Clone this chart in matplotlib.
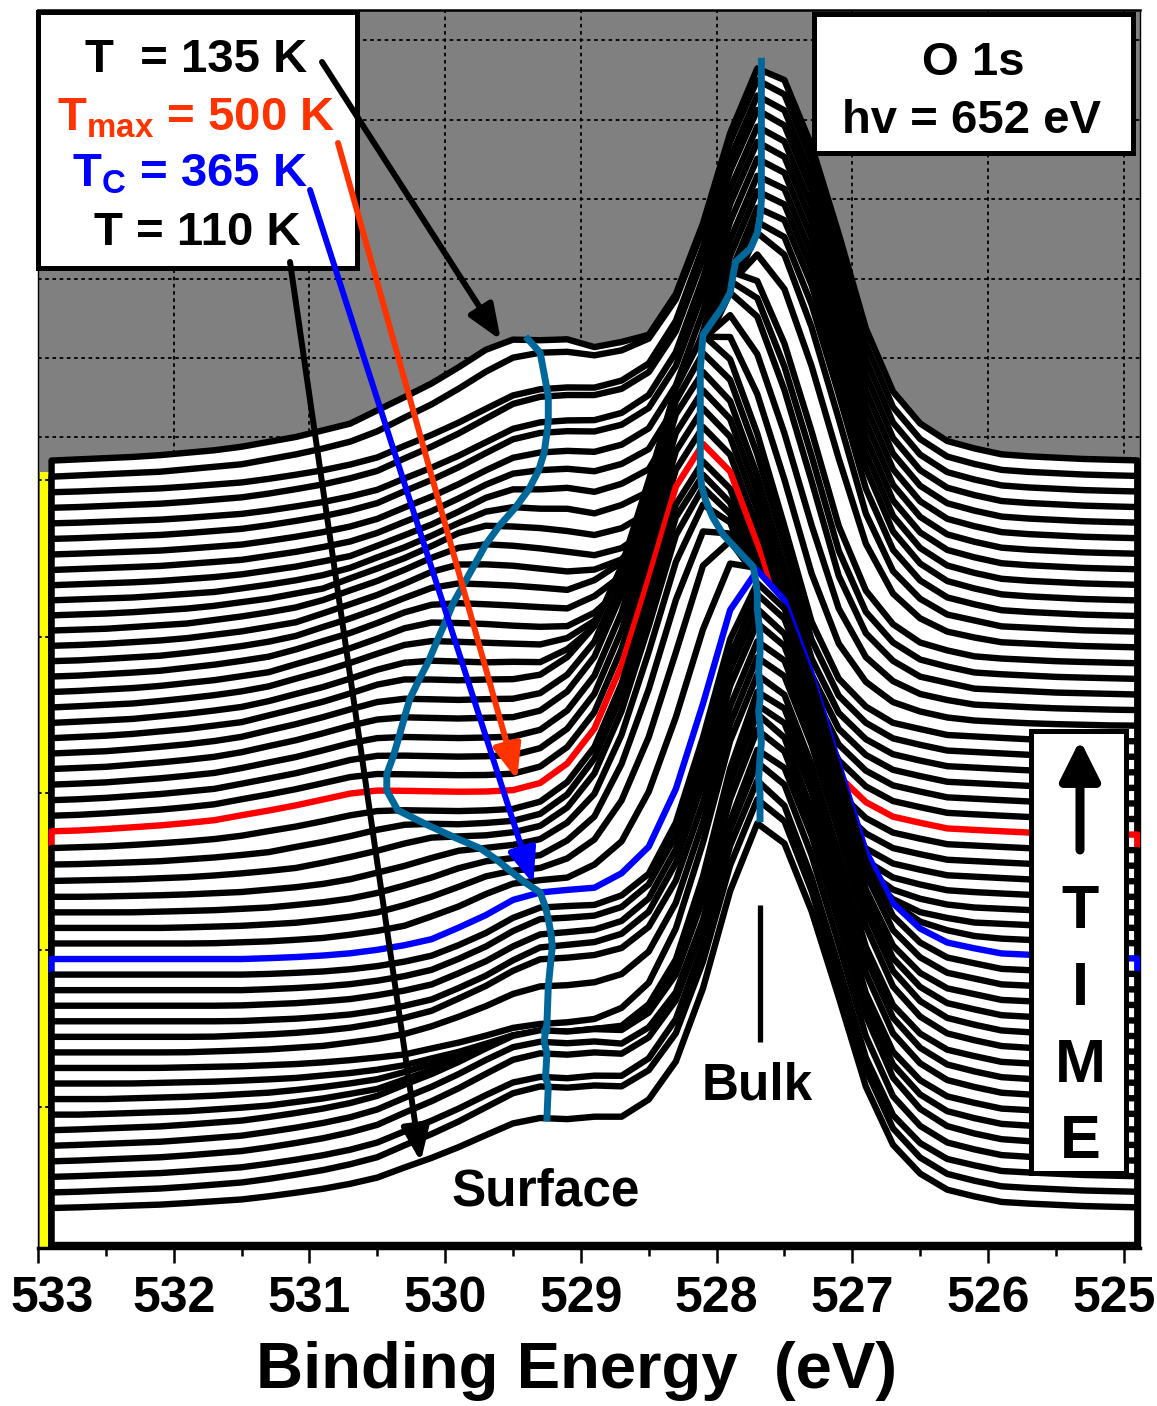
import numpy as np
import matplotlib
matplotlib.use("Agg")
import matplotlib.pyplot as plt
from matplotlib.ticker import AutoMinorLocator
from matplotlib.transforms import ScaledTranslation
from matplotlib.patches import Rectangle

plt.rcParams["font.family"] = ["Liberation Sans", "DejaVu Sans"]
plt.rcParams["font.weight"] = "bold"
plt.rcParams["mathtext.fontset"] = "custom"
plt.rcParams["mathtext.rm"] = "Liberation Sans:bold"
plt.rcParams["mathtext.it"] = "Liberation Sans:bold"
plt.rcParams["mathtext.bf"] = "Liberation Sans:bold"

# ---- data -------------------------------------------------------------
# binding energy of every sample in one scan (eV)
energy = np.array([
    532.9, 532.7, 532.5, 532.3, 532.1, 531.9, 531.7, 531.5, 531.3, 531.1,
    530.9, 530.7, 530.5, 530.3, 530.1, 529.9, 529.7, 529.5, 529.3, 529.1,
    528.9, 528.7, 528.5, 528.3, 528.1, 527.9, 527.7, 527.5, 527.3, 527.1,
    526.9, 526.7, 526.5, 526.3, 526.1, 525.9, 525.7, 525.5, 525.3, 525.1,
    524.9])

surf_de = [-2.6, -2.1, -1.7, -1.5, -1.27, -1.1, -0.9, -0.7, -0.3, 0.0,
           0.1, 0.3, 0.45, 0.75, 1.05, 1.3, 1.7, 2.2, 2.8, 3.6]
surf_shape = [0.0, 0.01, 0.05, 0.12, 0.26, 0.41, 0.58, 0.77, 0.97, 1.0,
              1.0, 0.92, 0.81, 0.61, 0.45, 0.31, 0.20, 0.10, 0.04, 0.0]
bulk_de = [-3.0, -2.4, -1.8, -1.4, -1.2, -1.0, -0.8, -0.6, -0.4, -0.2,
           0.0, 0.15, 0.3, 0.45, 0.6, 0.8, 1.0, 1.2, 1.6]
bulk_shape = [0.0, 0.005, 0.015, 0.045, 0.085, 0.155, 0.30, 0.54, 0.77, 0.95,
              1.0, 0.90, 0.70, 0.50, 0.32, 0.15, 0.07, 0.02, 0.0]

# per scan, first (110 K) to last (135 K)
surf_energy = [
    529.25, 529.24, 529.26, 529.25, 529.27, 529.26, 529.25, 529.27, 529.26, 529.25,
    529.24, 529.22, 529.21, 529.22, 529.24, 529.26, 529.30, 529.42, 529.52, 529.62,
    529.74, 529.95, 530.15, 530.35, 530.43, 530.43, 530.38, 530.34, 530.30, 530.26,
    530.19, 530.12, 530.06, 530.00, 529.94, 529.86, 529.78, 529.70, 529.60, 529.48,
    529.38, 529.31, 529.27, 529.25, 529.24, 529.24, 529.25, 529.30, 529.39]
surf_height = [
    90, 106, 100, 108, 104, 100, 84, 68, 52, 44,
    66, 78, 75, 72, 71, 67, 66, 60, 55, 51,
    48, 45, 42, 40, 44, 45, 48, 51, 55, 58,
    62, 65, 69, 72, 76, 80, 84, 88, 91, 94,
    97, 100, 102, 106, 101, 111, 103, 124, 122]
surf_width_low = [
    1.2, 1.2, 1.2, 1.2, 1.2, 1.2, 1.2, 1.2, 1.2, 1.2,
    1.15, 1.1, 1.1, 1.05, 1.05, 1.0, 1.0, 1.1, 1.2, 1.35,
    1.5, 1.65, 1.8, 1.9, 2.0, 2.0, 1.95, 1.9, 1.85, 1.8,
    1.7, 1.6, 1.5, 1.45, 1.4, 1.3, 1.25, 1.2, 1.15, 1.1,
    1.05, 1.0, 1.0, 1.0, 1.0, 1.0, 1.0, 1.0, 1.0]
surf_width_high = [
    1.0, 1.0, 1.0, 1.0, 1.0, 1.0, 0.95, 0.9, 0.85, 0.8,
    0.75, 0.7, 0.65, 0.65, 0.62, 0.6, 0.6, 0.65, 0.7, 0.75,
    0.8, 0.85, 0.9, 0.95, 1.0, 1.0, 1.0, 1.0, 1.0, 1.0,
    1.0, 1.0, 1.0, 1.0, 1.0, 1.0, 1.0, 1.0, 1.0, 1.0,
    1.0, 1.0, 1.0, 1.0, 1.0, 1.0, 1.0, 1.0, 1.0]
bulk_energy = [
    527.68, 527.68, 527.69, 527.68, 527.67, 527.68, 527.69, 527.68, 527.68, 527.69,
    527.68, 527.68, 527.69, 527.70, 527.70, 527.71, 527.73, 527.84, 527.95, 528.03,
    528.08, 528.11, 528.12, 528.12, 528.12, 528.12, 528.12, 528.12, 528.12, 528.11,
    528.10, 528.03, 527.96, 527.90, 527.88, 527.86, 527.75, 527.70, 527.68, 527.67,
    527.67, 527.67, 527.67, 527.67, 527.67, 527.67, 527.67, 527.67, 527.67]
bulk_height = [
    368, 372, 375, 378, 380, 382, 383, 384, 385, 385,
    386, 386, 386, 386, 386, 386, 386, 383, 380, 378,
    377, 377, 377, 377, 377, 378, 380, 382, 384, 386,
    388, 389, 390, 391, 392, 393, 393, 394, 394, 394,
    394, 394, 394, 394, 394, 394, 394, 394, 394]
bulk_width = [
    0.88, 0.88, 0.88, 0.88, 0.88, 0.88, 0.88, 0.88, 0.88, 0.95,
    0.95, 0.95, 0.95, 0.95, 0.95, 0.95, 1.0, 1.05, 1.05, 1.05,
    1.05, 1.05, 1.05, 1.05, 1.05, 1.05, 1.05, 1.05, 1.05, 1.05,
    1.05, 1.04, 1.03, 1.02, 1.02, 1.01, 1.01, 1.0, 1.0, 1.0,
    1.0, 1.0, 1.0, 1.0, 1.0, 1.0, 1.0, 1.0, 1.0]

tc_scan = 16     # T_C = 365 K
tmax_scan = 24   # T_max = 500 K

tick_values = [533, 532, 531, 530, 529, 528, 527, 526, 525]
tick_labels = ["533", "532", "531", "530", "529", "528", "527", "526", "525"]

# ---- layout -----------------------------------------------------------
W, H = 1157, 1406
TEAL = "#00679A"
ORANGE = "#FF3300"
base_level = 40.0
step = 15.56
floor = 3.0
n_scans = len(surf_height)


def fx(px):
    return px / W


def fy(py):
    return 1 - py / H


def shape(de, tab_de, tab_val, w_low_be, w_high_be):
    scaled = np.where(de >= 0, de / w_high_be, de / w_low_be)
    return np.interp(scaled, tab_de, tab_val)


def intensity(e, i):
    e = np.asarray(e, dtype=float)
    s = shape(e - surf_energy[i], surf_de, surf_shape, surf_width_low[i], surf_width_high[i])
    b = shape(e - bulk_energy[i], bulk_de, bulk_shape, 1.0, bulk_width[i])
    return surf_height[i] * s + bulk_height[i] * b


fig = plt.figure(figsize=(W / 100, H / 100), dpi=100)
ax = fig.add_axes([fx(38), 1 - 1248 / H, (1140 - 38) / W, (1248 - 10) / H])
ax.set_facecolor("#808080")
ax.set_xlim(533.0, 524.88)
ax.set_ylim(0, 1238)

levels = [base_level + i * step for i in range(n_scans)]

# yellow strip at the left edge
ax.fill_betweenx([0, 776], 532.985, 532.9, color="#FFFF00", lw=0, zorder=1.5)
ax.hlines([768, 611, 455, 298, 141], 533.0, 532.91, colors="black",
          linestyles=(0, (2, 2)), lw=1.3, zorder=1.6)

# waterfall, last scan at the back
for i in reversed(range(n_scans)):
    y = levels[i] + intensity(energy, i)
    xs = np.r_[energy[0], energy, energy[-1]]
    ys = np.r_[floor, y, floor]
    if i == tmax_scan:
        c = "#FF0000"
    elif i == tc_scan:
        c = "#0000FF"
    else:
        c = "black"
    ax.fill(xs, ys, facecolor="white", edgecolor=c, lw=4.6, joinstyle="round", zorder=3)

# peak position guides
surf_peak_y = [levels[i] + float(intensity([surf_energy[i]], i)[0]) for i in range(n_scans)]
bulk_peak_y = [levels[i] + float(intensity([bulk_energy[i]], i)[0]) for i in range(n_scans)]
ax.plot(surf_energy, surf_peak_y, color=TEAL, lw=5, solid_joinstyle="round", zorder=10)
ax.plot(bulk_energy, bulk_peak_y, color=TEAL, lw=5, solid_joinstyle="round", zorder=10)

# bulk marker
ax.plot([bulk_energy[0], bulk_energy[0]], [1248 - 905, 1248 - 1042], color="black",
        lw=3.8, solid_capstyle="butt", zorder=11)

# axes styling
ax.set_xticks(tick_values, labels=tick_labels, fontsize=36, fontweight="bold")
ax.xaxis.set_minor_locator(AutoMinorLocator(2))
ax.tick_params(axis="x", which="major", direction="out", length=11, width=1.8, pad=9)
ax.tick_params(axis="x", which="minor", direction="out", length=6, width=1.8)
ax.set_yticks([811, 890, 969, 1049, 1128, 1208])
ax.tick_params(axis="y", length=0, labelleft=False)
ax.set_axisbelow(True)
ax.grid(True, color="black", linestyle=(0, (2, 2)), lw=1.3)
for side, lw in [("left", 1.0), ("bottom", 2.5), ("top", 1.8), ("right", 1.0)]:
    ax.spines[side].set_linewidth(lw)
ax.set_xlabel("Binding Energy  (eV)", fontsize=47, fontweight="bold")
ax.xaxis.set_label_coords(0.489, -0.075)

ticks = ax.xaxis.get_major_ticks()
ticks[0].label1.set_transform(ticks[0].label1.get_transform()
                              + ScaledTranslation(0.14, 0, fig.dpi_scale_trans))
ticks[-1].label1.set_transform(ticks[-1].label1.get_transform()
                               + ScaledTranslation(-0.10, 0, fig.dpi_scale_trans))

# boxes
def box(x0, y0, x1, y1):
    ax.add_patch(Rectangle((fx(x0), fy(y1)), fx(x1) - fx(x0), fy(y0) - fy(y1),
                           transform=fig.transFigure, facecolor="white",
                           edgecolor="black", lw=3.6, clip_on=False, zorder=20))


box(37.5, 11.5, 357.5, 267.5)
box(814, 14, 1133, 153)
box(1031, 731, 1126, 1173)


def label(x, y, s, size, color="black"):
    ax.text(fx(x), fy(y), s, transform=fig.transFigure, fontsize=size,
            fontweight="bold", color=color, ha="center", va="baseline", zorder=21)


label(196, 72, "T  = 135 K", 34)
label(196, 130, r"T$_{\mathrm{max}}$ = 500 K", 34, ORANGE)
label(190, 187, r"T$_{\mathrm{C}}$ = 365 K", 34, "#0000FF")
label(197, 245, "T = 110 K", 34)
label(973, 75, "O 1s", 34)
label(972, 133, "hv = 652 eV", 34)
label(546, 1205, "Surface", 37)
label(757, 1100, "Bulk", 37)
for letter, yb in zip("TIME", [928, 1005, 1082, 1158]):
    label(1080, yb, letter, 44)

# arrows from the legend to the scans
arrow_style = "-|>,head_length=0.7,head_width=0.28"
for tail, scan, e_tip, dy, c in [((322, 62), n_scans - 1, 529.59, 4, "black"),
                                 ((338, 143), tmax_scan, 529.47, 10, ORANGE),
                                 ((310, 190), tc_scan, 529.35, 9, "#0000FF"),
                                 ((290, 262), 0, 530.18, 0, "black")]:
    y_tip = levels[scan] + float(intensity([e_tip], scan)[0]) + dy
    ax.annotate("", xy=(e_tip, y_tip), xycoords="data",
                xytext=(fx(tail[0]), fy(tail[1])), textcoords="figure fraction",
                arrowprops=dict(arrowstyle=arrow_style, color=c, lw=4.3,
                                mutation_scale=30, shrinkA=0, shrinkB=0),
                zorder=22)

ax.annotate("", xy=(fx(1080), fy(740)), xycoords="figure fraction",
            xytext=(fx(1080), fy(850)), textcoords="figure fraction",
            arrowprops=dict(arrowstyle="-|>,head_length=0.8,head_width=0.4",
                            color="black", lw=6.5, mutation_scale=30,
                            shrinkA=0, shrinkB=0),
            zorder=22)

fig.savefig("out.png", dpi=100)
plt.close(fig)
